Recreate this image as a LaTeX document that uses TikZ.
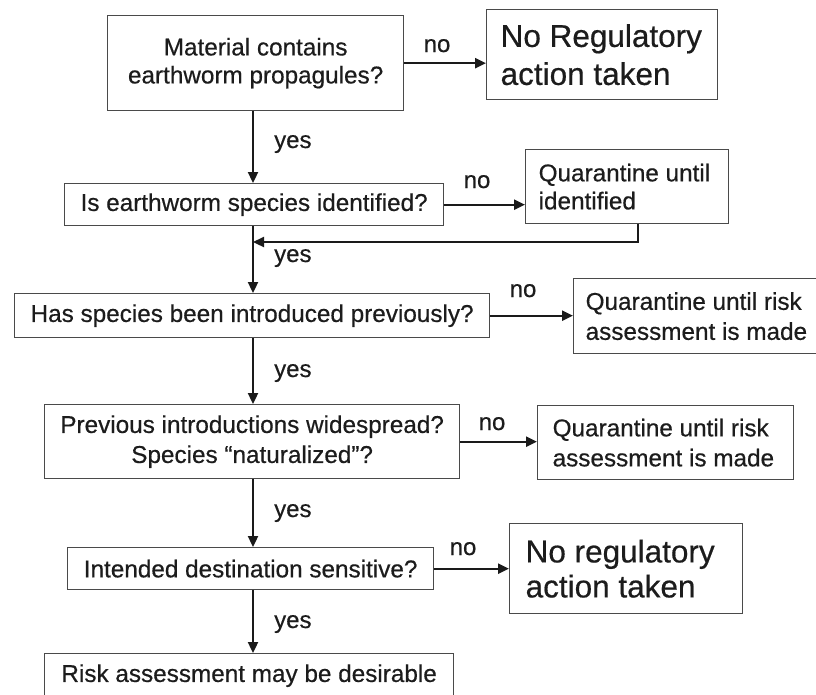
\documentclass[tikz,border=0pt]{standalone}
\usepackage{fontspec}
\setmainfont[FakeBold=0.5]{Liberation Sans}
\usetikzlibrary{arrows.meta}
\definecolor{boxgray}{HTML}{4A4A4A}
\definecolor{txt}{HTML}{1C1C1C}
\definecolor{lnk}{HTML}{1A1A1A}
\begin{document}
\begin{tikzpicture}[x=1pt,y=-1pt,
  box/.style={draw=boxgray, line width=1.3pt, inner sep=0pt, anchor=north west,
    text=txt, align=center, font=\fontsize{24.3}{28}\selectfont},
  wh/.style 2 args={minimum width=#1, minimum height=#2},
  lbox/.style 2 args={box, align=flush left, inner xsep=#1, text width=#2},
  big/.style={font=\fontsize{31.5}{38}\selectfont},
  arr/.style={draw=lnk, line width=2.3pt, -{Triangle[length=11pt,width=10pt]}},
  lab/.style={anchor=base, text=txt, inner sep=0pt, font=\fontsize{24}{28}\selectfont},
  ylab/.style={anchor=base west, text=txt, inner sep=0pt, font=\fontsize{24}{28}\selectfont}]
\useasboundingbox (0,0) rectangle (816,694);
\fill[white] (0,0) rectangle (816,694);

% boxes
\node[box, wh={296}{95}] (b1) at (107,15) {Material contains\\earthworm propagules?};
\node[lbox={14}{203}, wh={231}{90}, big] (b2) at (486,9) {No Regulatory\\action taken};
\node[box, wh={379}{42}] (b3) at (64,183) {Is earthworm species identified?};
\node[lbox={13}{177}, wh={203}{74}] (b4) at (525,149) {Quarantine until\\identified};
\node[box, wh={475}{44}] (b5) at (14,293) {Has species been introduced previously?};
\node[lbox={12}{223}, wh={247}{75}, font=\fontsize{24.3}{30}\selectfont] (b6) at (573,278) {Quarantine until risk\\assessment is made};
\node[box, wh={415}{74}, font=\fontsize{24.3}{30}\selectfont] (b7) at (44,404) {Previous introductions widespread?\\Species “naturalized”?};
\node[lbox={15}{226}, wh={256}{74}, font=\fontsize{24.3}{30}\selectfont] (b8) at (537,405) {Quarantine until risk\\assessment is made};
\node[box, wh={366}{42}] (b9) at (67,547) {Intended destination sensitive?};
\node[lbox={16}{201}, wh={233}{90}, font=\fontsize{31.5}{35}\selectfont] (b10) at (509,523) {No regulatory\\action taken};
\node[box, wh={409}{44}] (b11) at (44,653) {Risk assessment may be desirable};

% spine of the main column
\coordinate (spine) at (253,0);
\coordinate (fb) at (253,242);

% yes arrows
\draw[arr] (b1.south -| spine) -- (b3.north -| spine);
\draw[arr] (b3.south -| spine) -- (b5.north -| spine);
\draw[arr] (b5.south -| spine) -- (b7.north -| spine);
\draw[arr] (b7.south -| spine) -- (b9.north -| spine);
\draw[arr] (b9.south -| spine) -- (b11.north -| spine);

% no arrows
\draw[arr] (b1.east) -- (b1.east -| b2.west);
\draw[arr] (b3.east) -- (b3.east -| b4.west);
\draw[arr] (b5.east) -- (b5.east -| b6.west);
\draw[arr] (b7.east) -- (b7.east -| b8.west);
\draw[arr] (b9.east) -- (b9.east -| b10.west);

% feedback from quarantine
\draw[arr] ([xshift=10.5pt]b4.south) |- (fb);

% labels
\node[lab] (n1) at (437,52) {no};
\node[lab] (n2) at (477,188) {no};
\node[lab] (n3) at (523,297) {no};
\node[lab] (n4) at (492,430) {no};
\node[lab] (n5) at (463,555) {no};
\node[ylab] (y1) at (274,148) {yes};
\node[ylab] (y2) at (274,262) {yes};
\node[ylab] (y3) at (274,377) {yes};
\node[ylab] (y4) at (274,517) {yes};
\node[ylab] (y5) at (274,628) {yes};
\end{tikzpicture}
\end{document}
